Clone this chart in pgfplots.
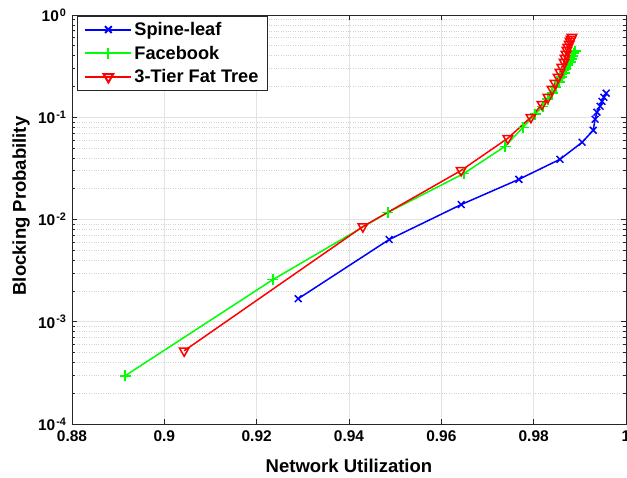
\documentclass[border=0pt]{standalone}
\usepackage{fontspec}
\setmainfont{Liberation Sans}
\usepackage{pgfplots}
\pgfplotsset{compat=1.18}

\definecolor{axgray}{RGB}{38,38,38}

\begin{document}
\begin{tikzpicture}
\begin{axis}[
    scale only axis,
    width=554pt, height=409pt,
    xmin=0.88, xmax=1,
    ymode=log, ymin=1e-4, ymax=1,
    xtick={0.88,0.9,0.92,0.94,0.96,0.98,1},
    xticklabels={0.88,0.9,0.92,0.94,0.96,0.98,1},
    ytick={1e-4,1e-3,1e-2,1e-1,1},
    yticklabels={10\textsuperscript{\hspace{1pt}-4},10\textsuperscript{\hspace{1pt}-3},10\textsuperscript{\hspace{1pt}-2},10\textsuperscript{\hspace{1pt}-1},10\textsuperscript{\hspace{1pt}0}},
    ticklabel style={font=\fontsize{15.5}{18}\selectfont\bfseries, text=black},
    xticklabel style={yshift=-3pt},
    yticklabel style={xshift=-2pt},
    xlabel={Network Utilization},
    ylabel={Blocking Probability},
    label style={font=\fontsize{18.5}{22}\selectfont\bfseries},
    xlabel style={at={(axis description cs:0.5,0)}, anchor=center, yshift=-42pt},
    ylabel style={at={(axis description cs:-0.092,0.533)}, anchor=center},
    xmajorgrids=true, ymajorgrids=true, yminorgrids=true,
    major grid style={gray!22, line width=0.6pt},
    minor grid style={gray!35, dotted, line width=0.6pt},
    axis line style={axgray, line width=0.9pt},
    tick style={axgray, line width=0.7pt},
    major tick length=5pt, minor tick length=3pt,
    tick align=inside,
    legend style={at={(axis description cs:0.009,0.998)}, anchor=north west,
        font=\fontsize{18.2}{21}\selectfont\bfseries, draw=axgray, line width=0.8pt,
        row sep=5pt, inner xsep=7pt, inner ysep=4pt},
    legend cell align=left,
    legend image code/.code={\draw[mark repeat=2,mark phase=2,#1,line width=2pt] plot coordinates {(0pt,0pt)(23pt,0pt)(46pt,0pt)};},
]
\addplot[draw=blue, line width=1.5pt, mark=x, mark size=4.8pt, mark options={solid, draw=blue}] coordinates {
(0.9290,0.00168) (0.9487,0.00637) (0.9643,0.0140) (0.9768,0.0247)
(0.9857,0.0388) (0.9905,0.0569) (0.9929,0.0746) (0.9933,0.0956)
(0.9937,0.112) (0.9944,0.128) (0.9948,0.143) (0.9952,0.157) (0.9957,0.172)
};
\addlegendentry{Spine-leaf}
\addplot[draw=green, line width=1.5pt, mark=+, mark size=5.5pt, mark options={solid, draw=green}] coordinates {
(0.8915,0.000296) (0.9235,0.00258) (0.9484,0.0117) (0.9649,0.0282)
(0.9738,0.0520) (0.9777,0.0798) (0.9803,0.107) (0.9820,0.128)
(0.9831,0.150) (0.9840,0.172) (0.9848,0.197) (0.9855,0.220)
(0.9861,0.247) (0.9866,0.270) (0.9870,0.296) (0.9874,0.323)
(0.9879,0.346) (0.9883,0.371) (0.9885,0.396) (0.9887,0.424) (0.9890,0.444)
};
\addlegendentry{Facebook}
\addplot[draw=red, line width=1.5pt, mark=triangle, mark size=5.5pt, mark options={solid, draw=red, fill=white, rotate=180}] coordinates {
(0.9043,0.00052) (0.9430,0.00853) (0.9643,0.0302) (0.9744,0.0623)
(0.9794,0.100) (0.9818,0.134) (0.9831,0.157) (0.9840,0.188)
(0.9846,0.216) (0.9853,0.247) (0.9857,0.276) (0.9861,0.309)
(0.9866,0.346) (0.9868,0.379) (0.9870,0.415) (0.9872,0.454)
(0.9874,0.485) (0.9877,0.520) (0.9879,0.556) (0.9881,0.582) (0.9883,0.609)
};
\addlegendentry{3-Tier Fat Tree}
\end{axis}
\pgfresetboundingbox
\path[use as bounding box] (-72pt,-54pt) rectangle (555pt,424pt);
\end{tikzpicture}
\end{document}
